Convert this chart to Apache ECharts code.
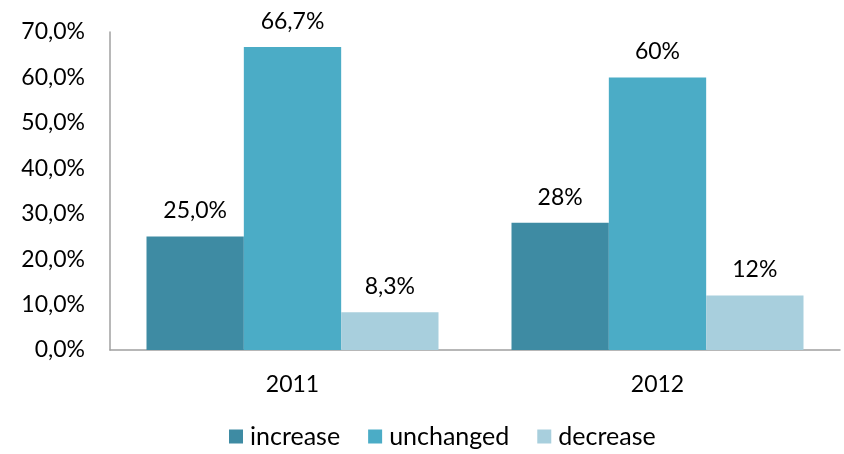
<!DOCTYPE html>
<html>
<head>
<meta charset="utf-8">
<script src="https://cdn.jsdelivr.net/npm/echarts@6/dist/echarts.min.js"></script>
<style>html,body{margin:0;padding:0;background:#fff}#c{width:844px;height:454px}</style>
</head>
<body>
<div id="c"></div>
<script>
const categories = ['2011', '2012'];
const seriesNames = ['increase', 'unchanged', 'decrease'];
const increaseValues = [25.0, 28];
const unchangedValues = [66.7, 60];
const decreaseValues = [8.3, 12];
const increaseLabels = ['25,0%', '28%'];
const unchangedLabels = ['66,7%', '60%'];
const decreaseLabels = ['8,3%', '12%'];
const yTicks = [0, 10, 20, 30, 40, 50, 60, 70];

const colors = ['#3E8BA3', '#4BACC6', '#A8CFDD'];
const font = 'Lato, "Open Sans", sans-serif';

function mk(name, values, labels, color) {
  return {
    name: name,
    type: 'bar',
    data: values,
    itemStyle: { color: color },
    barGap: '0%',
    barCategoryGap: '20%',
    label: {
      show: true,
      position: 'top',
      distance: 14,
      fontFamily: font,
      fontSize: 23,
      color: '#000',
      formatter: p => labels[p.dataIndex]
    }
  };
}

const chart = echarts.init(document.getElementById('c'));
chart.setOption({
  animation: false,
  textStyle: { fontFamily: font },
  grid: { left: 110, right: 4, top: 32, bottom: 104 },
  legend: {
    bottom: 0,
    left: 224,
    itemWidth: 14,
    itemHeight: 14,
    itemGap: 28,
    icon: 'rect',
    data: seriesNames,
    textStyle: { fontFamily: font, fontSize: 25, color: '#000', padding: [0, 0, 0, 2] }
  },
  xAxis: {
    type: 'category',
    data: categories,
    axisLine: { lineStyle: { color: '#A0A0A0', width: 1.5 } },
    axisTick: { show: false },
    axisLabel: { margin: 23, fontFamily: font, fontSize: 23, color: '#000' }
  },
  yAxis: {
    type: 'value',
    min: yTicks[0],
    max: yTicks[yTicks.length - 1],
    interval: 10,
    splitLine: { show: false },
    axisLine: { show: true, lineStyle: { color: '#A0A0A0', width: 1.5 } },
    axisTick: { show: false },
    axisLabel: {
      margin: 25,
      fontFamily: font,
      fontSize: 23,
      color: '#000',
      formatter: v => v.toFixed(1).replace('.', ',') + '%'
    }
  },
  series: [
    mk(seriesNames[0], increaseValues, increaseLabels, colors[0]),
    mk(seriesNames[1], unchangedValues, unchangedLabels, colors[1]),
    mk(seriesNames[2], decreaseValues, decreaseLabels, colors[2])
  ]
});
</script>
</body>
</html>
